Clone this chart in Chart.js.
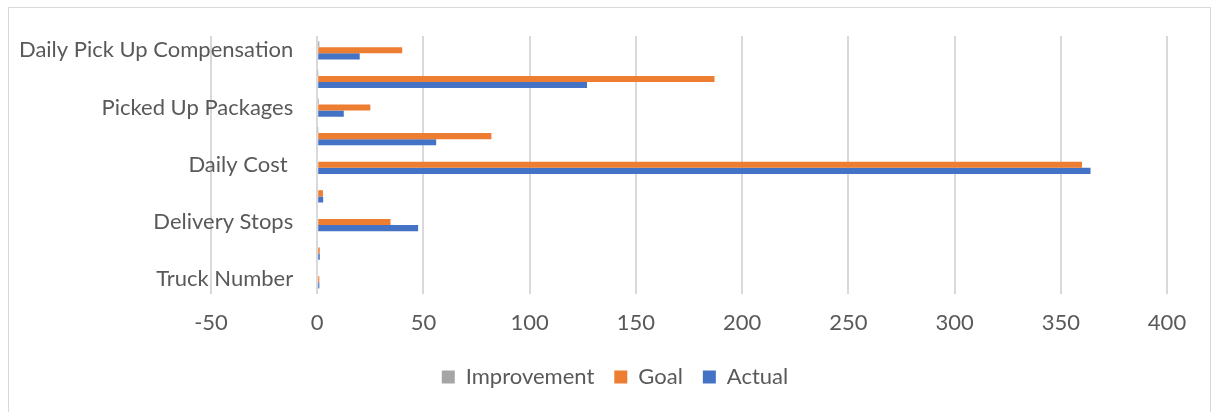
<!DOCTYPE html>
<html>
<head>
<meta charset="UTF-8">
<title>Truck KPI</title>
<script src="https://cdn.jsdelivr.net/npm/chart.js@4.4.1/dist/chart.umd.min.js"></script>
<style>
  html, body {
    margin: 0;
    padding: 0;
    background: #ffffff;
  }
  #chart_box {
    position: relative;
    width: 1218px;
    height: 412px;
  }
</style>
</head>
<body>
<div id="chart_box">
  <canvas id="kpiChart" width="1218" height="412"></canvas>
</div>
<script>

// categories, top row first (unlabelled rows are skipped labels)
const categoryList = [
  'Daily Pick Up Compensation',
  '',
  'Picked Up Packages',
  '',
  'Daily Cost ',
  '',
  'Delivery Stops',
  '',
  'Truck Number',
];
const improvementList = [1, 0.2, 0.8, 0.2, 0, 0, 0, 0, 0];
const goalList = [40, 187, 25, 82, 360, 2.7, 34.5, 1.2, 1];
const actualList = [20, 127, 12.5, 56, 364, 2.8, 47.5, 1.2, 1];

const X_MIN = -50;
const X_MAX = 400;
const X_STEP = 50;

const TEXT_COLOR = '#595959';
const GRID_COLOR = '#d9d9d9';
const FONT_FAMILY = 'Lato';
const FONT_SIZE = 22;

Chart.defaults.font.family = FONT_FAMILY;
Chart.defaults.color = TEXT_COLOR;
Chart.defaults.animation = false;

// light frame round the whole chart
const frameBorder = {
  id: 'frameBorder',
  beforeDraw(chart) {
    const ctx = chart.ctx;
    ctx.save();
    ctx.strokeStyle = GRID_COLOR;
    ctx.lineWidth = 1;
    ctx.strokeRect(8.5, 7.5, 1202, 410);
    ctx.restore();
  }
};

// empty axis used only to reserve side space, so the legend stays centred on the canvas
function spacerAxis(side, width) {
  return {
    type: 'linear',
    position: side,
    display: true,
    ticks: { display: false },
    grid: { display: false, drawTicks: false },
    border: { display: false },
    afterFit: (scale) => { scale.width = width; },
  };
}

function makeChart(id) {
  let ctx = document.getElementById(id);
  return new Chart(ctx, {
    type: 'bar',
    data: {
      labels: categoryList,
      datasets: [{
        label: 'Improvement',
        data: improvementList,
        backgroundColor: '#a5a5a5',
      }, {
        label: 'Goal',
        data: goalList,
        backgroundColor: '#ed7d31',
      }, {
        label: 'Actual',
        data: actualList,
        backgroundColor: '#4472c4',
      }],
    },
    options: {
      indexAxis: 'y',
      responsive: false,
      maintainAspectRatio: false,
      categoryPercentage: 0.64,
      barPercentage: 1.0,
      layout: {
        padding: { left: 12, right: 0, top: 36, bottom: 14 },
      },
      scales: {
        x: {
          min: X_MIN,
          max: X_MAX,
          ticks: {
            stepSize: X_STEP,
            padding: 16,
            font: { size: FONT_SIZE },
            color: TEXT_COLOR,
          },
          grid: {
            color: GRID_COLOR,
            lineWidth: 2,
            drawTicks: false,
          },
          border: { display: false },
          // tighten the gap between tick labels and legend
          afterFit: (scale) => { scale.height -= 6; },
        },
        // category labels sit just left of the zero line
        y: {
          position: { x: -11.3 },
          ticks: {
            autoSkip: false,
            font: { size: FONT_SIZE },
            color: TEXT_COLOR,
          },
          grid: { display: false, drawTicks: false },
          border: { display: false },
        },
        padLeft: spacerAxis('left', 199),
        padRight: spacerAxis('right', 51),
      },
      plugins: {
        legend: {
          position: 'bottom',
          labels: {
            boxWidth: 13,
            boxHeight: 13,
            padding: 20,
            font: { size: FONT_SIZE },
            color: TEXT_COLOR,
          },
        },
        tooltip: { enabled: false },
      },
    },
    plugins: [frameBorder],
  });
};

var kpiChart = makeChart('kpiChart');
</script>
</body>
</html>
